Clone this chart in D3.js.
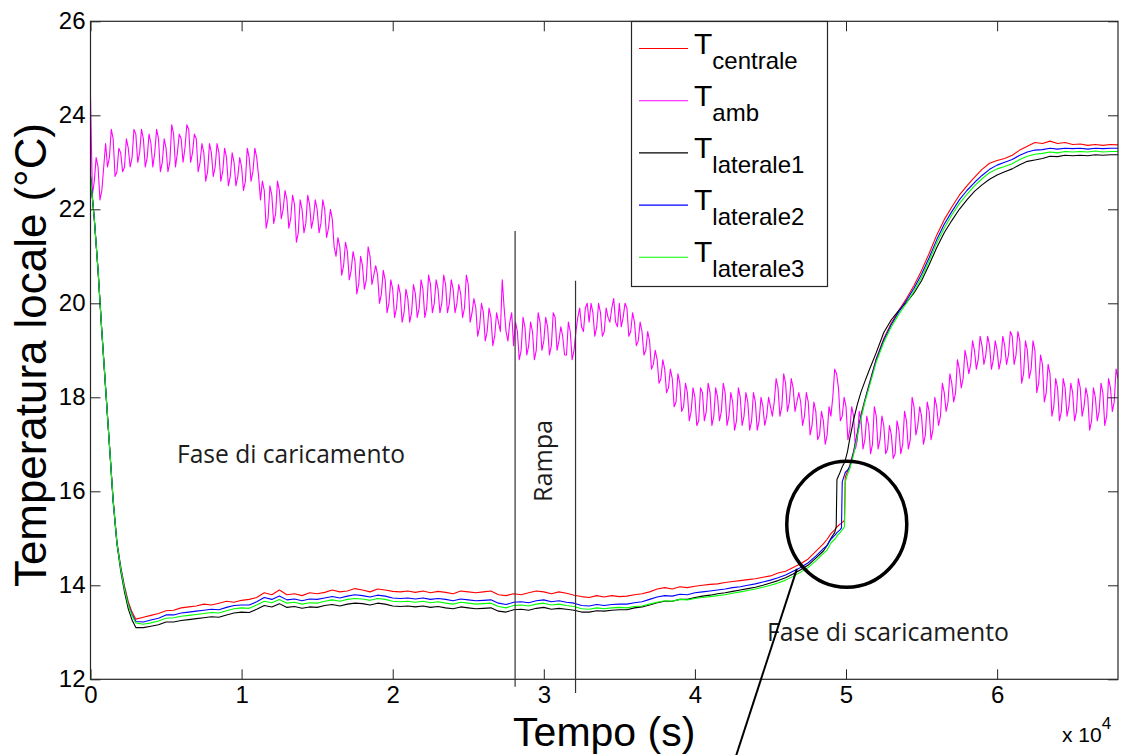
<!DOCTYPE html>
<html lang="it">
<head>
  <meta charset="UTF-8">
  <title>Temperatura locale</title>
  <script src="https://d3js.org/d3.v7.min.js"></script>
  <style>
    body {
      margin: 0;
      padding: 0;
      background: #fff;
    }
    svg {
      display: block;
    }
    .axis text {
      font-family: "Liberation Sans", Arial, sans-serif;
      font-size: 24px;
      fill: #000;
    }
    .axis line {
      stroke: #222;
    }
    .note {
      font-family: "Open Sans", "Noto Sans", sans-serif;
      font-size: 25px;
      fill: #1c1c1c;
    }
  </style>
</head>
<body>
  <div id="chart"></div>
<script>
  // time grid of the four probe series (s)
  const tCore = [].concat(
    d3.range(0, 3001, 250),
    d3.range(3500, 48501, 500),
    [48750, 49000, 49250, 49350, 49400, 49600, 49700, 49750, 49850, 49900, 49950, 50100, 50250, 50500, 50750, 51000, 51250, 51500],
    d3.range(52000, 68001, 500)
  )

  const tCentrale = [
    22.7, 21.8, 20.7, 19.4, 18.2, 17.0, 15.82, 14.93, 14.4, 13.98, 13.65, 13.43, 13.28,
    13.32, 13.36, 13.40, 13.46, 13.47, 13.52, 13.54, 13.56, 13.60, 13.58,
    13.62, 13.66, 13.64, 13.68, 13.70, 13.74, 13.84, 13.80, 13.90, 13.80,
    13.82, 13.78, 13.84, 13.82, 13.85, 13.90, 13.86, 13.88, 13.93, 13.90,
    13.86, 13.92, 13.90, 13.87, 13.86, 13.88, 13.85, 13.88, 13.84, 13.87,
    13.85, 13.82, 13.88, 13.86, 13.84, 13.86, 13.88, 13.80, 13.78, 13.82,
    13.80, 13.84, 13.88, 13.86, 13.82, 13.86, 13.83, 13.79, 13.76, 13.74,
    13.78, 13.75, 13.78, 13.76, 13.77, 13.80, 13.82, 13.86, 13.92, 13.95,
    13.92, 13.97, 13.95, 13.98, 14.00, 14.02, 14.03, 14.06, 14.08, 14.10,
    14.12, 14.14, 14.17, 14.20, 14.26, 14.30, 14.38, 14.46, 14.56, 14.72,
    14.88,
    14.98, 15.10, 15.18, 15.22, 15.24, 15.30, 15.32, 15.34, 15.36, 15.40, 16.30, 16.42, 16.55, 16.85, 17.25, 17.65, 17.95, 18.25,
    18.82, 19.25, 19.58, 19.85, 20.10, 20.38, 20.70, 21.06, 21.45, 21.78, 22.05, 22.30, 22.50, 22.68, 22.85, 22.98, 23.04,
    23.08, 23.15, 23.26, 23.34, 23.42, 23.40, 23.45, 23.40, 23.42, 23.38, 23.39, 23.36, 23.38, 23.36, 23.38, 23.37
  ]

  const tLaterale1 = [
    22.7, 21.8, 20.7, 19.4, 18.2, 17.0, 15.78, 14.88, 14.3, 13.86, 13.5, 13.26, 13.10,
    13.10, 13.13, 13.16, 13.22, 13.22, 13.25, 13.27, 13.29, 13.31, 13.33,
    13.32, 13.37, 13.41, 13.43, 13.42, 13.49, 13.57, 13.54, 13.61, 13.53,
    13.55, 13.51, 13.54, 13.53, 13.57, 13.59, 13.56, 13.60, 13.62, 13.61,
    13.58, 13.62, 13.60, 13.56, 13.55, 13.56, 13.54, 13.56, 13.53, 13.55,
    13.52, 13.50, 13.54, 13.52, 13.50, 13.51, 13.52, 13.45, 13.43, 13.48,
    13.49, 13.47, 13.51, 13.53, 13.49, 13.51, 13.49, 13.47, 13.43, 13.43,
    13.46, 13.45, 13.47, 13.48, 13.48, 13.52, 13.54, 13.58, 13.63, 13.66,
    13.66, 13.70, 13.70, 13.74, 13.77, 13.79, 13.82, 13.84, 13.87, 13.90,
    13.93, 13.96, 14.00, 14.05, 14.10, 14.16, 14.24, 14.33, 14.43, 14.58,
    14.73,
    14.85, 15.00, 15.12, 15.25, 16.25, 16.40, 16.48, 16.52, 16.58, 16.62, 16.66, 16.85, 17.12, 17.52, 17.85, 18.12, 18.34, 18.55,
    18.95, 19.38, 19.65, 19.85, 20.02, 20.22, 20.48, 20.82, 21.18, 21.50, 21.76, 22.00, 22.20, 22.38, 22.52, 22.64, 22.73,
    22.80, 22.86, 22.95, 23.02, 23.05, 23.08, 23.13, 23.12, 23.15, 23.14, 23.15, 23.14, 23.16, 23.15, 23.16, 23.16
  ]

  const tLaterale2 = [
    22.7, 21.8, 20.7, 19.4, 18.2, 17.0, 15.8, 14.9, 14.37, 13.94, 13.6, 13.38, 13.23,
    13.22, 13.26, 13.30, 13.37, 13.37, 13.41, 13.43, 13.45, 13.47, 13.49,
    13.48, 13.53, 13.57, 13.58, 13.58, 13.65, 13.74, 13.70, 13.77, 13.69,
    13.71, 13.67, 13.71, 13.70, 13.73, 13.76, 13.73, 13.77, 13.80, 13.78,
    13.75, 13.79, 13.77, 13.73, 13.72, 13.73, 13.71, 13.73, 13.70, 13.72,
    13.70, 13.67, 13.71, 13.69, 13.67, 13.68, 13.69, 13.62, 13.59, 13.64,
    13.65, 13.63, 13.67, 13.69, 13.65, 13.67, 13.64, 13.62, 13.57, 13.56,
    13.59, 13.57, 13.59, 13.60, 13.60, 13.63, 13.65, 13.70, 13.75, 13.78,
    13.77, 13.81, 13.80, 13.84, 13.86, 13.88, 13.90, 13.92, 13.95, 13.97,
    14.00, 14.03, 14.07, 14.11, 14.16, 14.22, 14.30, 14.38, 14.48, 14.62,
    14.78,
    14.85, 14.98, 15.06, 15.10, 15.12, 15.18, 15.22, 16.20, 16.30, 16.35, 16.40, 16.45, 16.52, 16.82, 17.22, 17.60, 17.93, 18.22,
    18.80, 19.22, 19.55, 19.82, 20.06, 20.32, 20.62, 20.97, 21.35, 21.68, 21.95, 22.20, 22.40, 22.57, 22.72, 22.85, 22.94,
    23.00, 23.06, 23.15, 23.22, 23.26, 23.27, 23.30, 23.28, 23.30, 23.29, 23.30, 23.28, 23.30, 23.29, 23.30, 23.30
  ]

  const tLaterale3 = [
    22.7, 21.8, 20.7, 19.4, 18.2, 17.0, 15.8, 14.9, 14.35, 13.92, 13.58, 13.35, 13.20,
    13.17, 13.20, 13.24, 13.30, 13.31, 13.34, 13.36, 13.38, 13.40, 13.42,
    13.41, 13.46, 13.50, 13.52, 13.51, 13.58, 13.66, 13.63, 13.70, 13.62,
    13.64, 13.60, 13.63, 13.62, 13.66, 13.69, 13.66, 13.70, 13.72, 13.71,
    13.68, 13.72, 13.70, 13.66, 13.65, 13.66, 13.64, 13.66, 13.63, 13.65,
    13.62, 13.60, 13.64, 13.62, 13.60, 13.61, 13.62, 13.55, 13.52, 13.57,
    13.58, 13.56, 13.60, 13.62, 13.58, 13.60, 13.57, 13.55, 13.50, 13.49,
    13.52, 13.50, 13.52, 13.53, 13.52, 13.55, 13.56, 13.60, 13.64, 13.67,
    13.66, 13.70, 13.69, 13.72, 13.74, 13.76, 13.78, 13.80, 13.83, 13.86,
    13.89, 13.92, 13.96, 14.00, 14.05, 14.11, 14.19, 14.28, 14.38, 14.52,
    14.68,
    14.75, 14.90, 14.98, 15.02, 15.05, 15.12, 15.16, 15.18, 15.22, 15.25, 16.20, 16.36, 16.48, 16.78, 17.18, 17.56, 17.90, 18.18,
    18.75, 19.17, 19.50, 19.77, 20.00, 20.26, 20.55, 20.90, 21.28, 21.60, 21.88, 22.12, 22.32, 22.50, 22.65, 22.78, 22.86,
    22.91, 22.97, 23.06, 23.13, 23.17, 23.19, 23.22, 23.20, 23.23, 23.22, 23.23, 23.22, 23.24, 23.22, 23.23, 23.23
  ]

  // ambient temperature: samples every 250 s ...
  const ambStep = 250
  const tAmb = [
    24.4, 22.6, 22.9, 22.4,  23.4, 23.1, 23.5, 22.8,  23.2, 22.9, 23.3, 23.1,  23.6, 23.2, 23.5, 23.1,
    23.4, 23.2, 23.5, 23.0,  23.3, 23.0, 23.6, 23.2,  23.5, 23.3, 23.7, 23.2,  23.5, 23.0, 23.2, 22.8,
    23.2, 22.9, 23.2, 22.8,  23.1, 22.7, 23.0, 22.7,  22.9, 22.6, 23.1, 22.8,  23.1, 22.2, 22.4, 21.8,
    22.3, 21.9, 22.4, 22.0,  22.2, 21.8, 22.1, 21.5,  22.0, 21.7, 22.1, 21.8,  22.0, 21.7, 22.0, 21.6,
    21.8, 21.0, 21.2, 20.8,  21.1, 20.7, 20.9, 20.4,  20.8, 20.5, 21.0, 20.6,  20.6, 20.2, 20.5, 20.0,
    20.3, 19.9, 20.2, 19.8,  20.1, 19.8, 20.2, 19.9,  20.3, 19.9, 20.4, 20.0,  20.3, 20.0, 20.4, 20.0,
    20.3, 20.0, 20.2, 19.9,  20.4, 19.8, 19.9, 19.5,  19.8, 19.4, 19.7, 19.3,  19.6, 20.5, 19.4, 19.6,
    19.1, 19.4, 19.0, 19.5,  19.1, 19.4, 19.0, 19.6,  19.2, 19.5, 19.1, 19.7,  19.2, 19.3, 18.9, 19.4,
    19.0, 19.7, 19.5, 19.9,  19.6, 19.8, 19.5, 19.8,  19.4, 19.7, 19.9, 19.6,  20.0, 19.7, 19.9, 19.4,
    19.6, 19.2, 19.4, 19.0,  19.2, 18.7, 18.8, 18.4,  18.6, 18.2, 18.4, 17.9,  18.3, 17.8, 18.1, 17.7,
    18.0, 17.5, 18.1, 17.7,  18.1, 17.6, 18.0, 17.7,  18.1, 17.6, 17.9, 17.5,  18.0, 17.6, 17.9, 17.5,
    17.9, 17.5, 17.8, 17.6,  17.8, 17.9, 18.2, 17.8,  18.3, 17.9, 18.2, 17.9,  17.9, 17.6, 17.9, 17.4,
    17.7, 17.2, 17.5, 17.2,  17.6, 18.6, 18.2, 17.6,  17.8, 17.3, 17.6, 17.1,  17.5, 17.1, 17.4, 17.0,
    17.6, 17.1, 17.4, 16.9,  17.2, 16.8, 17.3, 17.0,  17.5, 17.1, 17.8, 17.4,  17.6, 17.2, 17.7, 17.3,
    17.8, 17.6, 18.1, 17.9,  18.3, 18.1, 18.6, 18.4,  18.8, 18.7, 19.0, 18.8,  19.1, 18.9, 19.1, 18.8,
    19.0, 18.8, 19.1, 18.9,  19.3, 18.9, 19.2, 18.5,  19.0, 18.6, 19.0, 18.3,  18.7, 18.1, 18.5, 17.8,
    18.2, 17.7, 18.2, 17.8,  18.1, 17.7, 18.2, 17.8,  18.0, 17.5, 18.0, 17.7,  18.1, 17.6, 18.2, 17.9,
    18.4
  ]
  // ... and the readings half-way between them (t = 125 + 250 i)
  const tAmbMid = [
    22.3, 23.1, 22.2, 22.9,  22.9, 23.7, 22.7, 23.3,  22.8, 23.5, 22.9, 23.7,  23.0, 23.7, 22.9, 23.6,
    22.9, 23.7, 22.8, 23.5,  22.8, 23.8, 22.9, 23.6,  23.0, 23.8, 23.0, 23.6,  22.8, 23.4, 22.6, 23.4,
    22.7, 23.4, 22.6, 23.3,  22.5, 23.2, 22.5, 23.1,  22.4, 23.3, 22.6, 23.3,  22.7, 22.6, 21.6, 22.5,
    21.7, 22.6, 21.8, 22.4,  21.6, 22.3, 21.3, 22.2,  21.5, 22.3, 21.6, 22.2,  21.5, 22.2, 21.4, 22.0,
    21.2, 21.4, 20.6, 21.3,  20.5, 21.1, 20.2, 21.0,  20.3, 21.2, 20.4, 20.8,  20.0, 20.7, 19.8, 20.5,
    19.7, 20.4, 19.6, 20.3,  19.6, 20.4, 19.7, 20.5,  19.7, 20.6, 19.8, 20.5,  19.8, 20.6, 19.8, 20.5,
    19.8, 20.4, 19.7, 20.6,  19.6, 20.1, 19.3, 20.0,  19.2, 19.9, 19.1, 19.8,  19.4, 19.9, 19.2, 19.8,
    19.6, 18.8, 19.7, 18.9,  19.6, 18.8, 19.8, 19.0,  19.7, 18.9, 19.8, 19.0,  19.5, 18.9, 19.6, 18.8,
    19.4, 19.9, 19.4, 20.0,  20.0, 19.3, 20.0, 19.3,  19.9, 19.6, 20.1, 19.5,  19.5, 20.0, 19.3, 19.8,
    19.1, 19.6, 18.9, 19.4,  18.6, 19.0, 18.3, 18.8,  18.1, 18.6, 17.8, 18.5,  17.7, 18.3, 17.5, 18.2,
    17.4, 18.2, 17.5, 18.3,  17.4, 18.2, 17.5, 18.3,  17.4, 18.1, 17.3, 18.2,  17.4, 18.1, 17.3, 18.1,
    17.3, 18.0, 17.4, 18.0,  17.6, 18.4, 17.6, 18.5,  17.7, 18.4, 17.7, 18.1,  17.4, 18.1, 17.2, 17.9,
    17.1, 17.7, 17.0, 17.8,  18.0, 18.5, 17.5, 18.0,  17.1, 17.8, 16.9, 17.7,  16.9, 17.6, 16.8, 17.8,
    16.9, 17.6, 16.8, 17.4,  16.7, 17.5, 16.8, 17.7,  16.9, 18.0, 17.2, 17.8,  17.0, 17.9, 17.1, 18.0,
    17.4, 18.3, 17.7, 18.5,  17.9, 18.8, 18.2, 19.0,  18.5, 19.2, 18.6, 19.3,  18.7, 19.3, 18.6, 19.2,
    18.6, 19.3, 18.7, 19.4,  18.7, 19.4, 18.3, 19.2,  18.4, 19.2, 18.1, 18.9,  17.9, 18.7, 17.6, 18.4,
    17.5, 18.4, 17.6, 18.3,  17.5, 18.4, 17.6, 18.2,  17.3, 18.2, 17.5, 18.3,  17.4, 18.4, 17.7, 18.6
  ]

  const xTicks = [0, 10000, 20000, 30000, 40000, 50000, 60000]
  const yTicks = [12, 14, 16, 18, 20, 22, 24, 26]

  // annotations (data units)
  const rampa = [{t: 28100, top: 21.54, bottom: 11.84}, {t: 32100, top: 20.48, bottom: 11.71}]
  const focus = {t: 50050, v: 15.3}
  const pointer = {t1: 46750, v1: 14.35, t2: 42550, v2: 10.2}

  const width = 1121
  const height = 755

  const x = d3.scaleLinear().domain([0, 68000]).range([90.5, 1118])
  const y = d3.scaleLinear().domain([12, 26]).range([679.3, 21.3])

  const svg = d3.select('#chart')
    .append('svg')
    .attr('width', width)
    .attr('height', height)
    .attr('viewBox', `0 0 ${width} ${height}`)

  svg.append('defs').append('clipPath')
    .attr('id', 'plot')
    .append('rect')
    .attr('x', x(0)).attr('y', y(26))
    .attr('width', x(68000) - x(0)).attr('height', y(12) - y(26))

  const corePoints = v => v.map((d, i) => [tCore[i], d])
  const ambPoints = []
  tAmb.forEach((d, i) => {
    ambPoints.push([i * ambStep, d])
    if (i < tAmbMid.length) ambPoints.push([i * ambStep + ambStep / 2, tAmbMid[i]])
  })

  //  series, in plotting order
  const series = [
    {name: 'centrale', color: '#ff0000', points: corePoints(tCentrale), w: 1.1},
    {name: 'amb', color: '#ff00ff', points: ambPoints, w: 1.1},
    {name: 'laterale1', color: '#000000', points: corePoints(tLaterale1), w: 1.1},
    {name: 'laterale2', color: '#0000ff', points: corePoints(tLaterale2), w: 1.1},
    {name: 'laterale3', color: '#00ff00', points: corePoints(tLaterale3), w: 1.1}
  ]

  const line = d3.line()
    .x(d => x(d[0]))
    .y(d => y(d[1]))

  svg.append('g')
    .attr('clip-path', 'url(#plot)')
    .selectAll('path')
    .data(series)
    .join('path')
    .attr('fill', 'none')
    .attr('stroke', d => d.color)
    .attr('stroke-width', d => d.w)
    .attr('stroke-linejoin', 'round')
    .attr('d', d => line(d.points))

  //  axes, ticks pointing inwards like the original figure
  svg.append('g')
    .attr('class', 'axis')
    .attr('transform', `translate(0,${y(12)})`)
    .call(d3.axisBottom(x).tickValues(xTicks).tickFormat(d => d / 1e4).tickSizeInner(-10).tickSizeOuter(0).tickPadding(7))
    .call(g => g.select('.domain').remove())

  svg.append('g')
    .attr('class', 'axis')
    .attr('transform', `translate(0,${y(26)})`)
    .call(d3.axisTop(x).tickValues(xTicks).tickFormat('').tickSizeInner(-10).tickSizeOuter(0))
    .call(g => g.select('.domain').remove())

  svg.append('g')
    .attr('class', 'axis')
    .attr('transform', `translate(${x(0)},0)`)
    .call(d3.axisLeft(y).tickValues(yTicks).tickSizeInner(-10).tickSizeOuter(0).tickPadding(5))
    .call(g => g.select('.domain').remove())

  svg.append('g')
    .attr('class', 'axis')
    .attr('transform', `translate(${x(68000)},0)`)
    .call(d3.axisRight(y).tickValues(yTicks).tickFormat('').tickSizeInner(-10).tickSizeOuter(0))
    .call(g => g.select('.domain').remove())

  svg.append('rect')
    .attr('x', x(0)).attr('y', y(26))
    .attr('width', x(68000) - x(0)).attr('height', y(12) - y(26))
    .attr('fill', 'none')
    .attr('stroke', '#262626')
    .attr('stroke-width', 1.2)

  //  axis titles
  svg.append('text')
    .attr('x', (x(0) + x(68000)) / 2)
    .attr('y', 745.5)
    .attr('text-anchor', 'middle')
    .style('font-family', '"Liberation Sans", Arial, sans-serif')
    .style('font-size', '41px')
    .text('Tempo (s)')

  svg.append('text')
    .attr('transform', `translate(46,355) rotate(-90)`)
    .attr('text-anchor', 'middle')
    .attr('textLength', 464)
    .attr('lengthAdjust', 'spacingAndGlyphs')
    .style('font-family', '"Liberation Sans", Arial, sans-serif')
    .style('font-size', '45px')
    .text('Temperatura locale (°C)')

  const expo = svg.append('text')
    .attr('x', 1062)
    .attr('y', 742)
    .style('font-family', '"Liberation Sans", Arial, sans-serif')
    .style('font-size', '21px')
  expo.append('tspan').text('x 10')
  expo.append('tspan').attr('dy', -13).style('font-size', '17px').text('4')

  //  rampa markers
  svg.append('g')
    .selectAll('line')
    .data(rampa)
    .join('line')
    .attr('x1', d => x(d.t)).attr('x2', d => x(d.t))
    .attr('y1', d => y(d.top)).attr('y2', d => y(d.bottom))
    .attr('stroke', '#333')
    .attr('stroke-width', 1.2)

  svg.append('text')
    .attr('class', 'note')
    .attr('transform', `translate(552,461) rotate(-90)`)
    .attr('text-anchor', 'middle')
    .attr('textLength', 82)
    .attr('lengthAdjust', 'spacingAndGlyphs')
    .text('Rampa')

  svg.append('text')
    .attr('class', 'note')
    .attr('x', 177).attr('y', 463)
    .attr('textLength', 228)
    .attr('lengthAdjust', 'spacingAndGlyphs')
    .text('Fase di caricamento')

  svg.append('text')
    .attr('class', 'note')
    .attr('x', 767).attr('y', 641)
    .attr('textLength', 242)
    .attr('lengthAdjust', 'spacingAndGlyphs')
    .text('Fase di scaricamento')

  //  zoom circle and pointer
  svg.append('ellipse')
    .attr('cx', x(focus.t)).attr('cy', y(focus.v))
    .attr('rx', 60).attr('ry', 63)
    .attr('fill', 'none')
    .attr('stroke', '#000')
    .attr('stroke-width', 3.5)

  svg.append('line')
    .attr('x1', x(pointer.t1)).attr('y1', y(pointer.v1))
    .attr('x2', x(pointer.t2)).attr('y2', y(pointer.v2))
    .attr('stroke', '#000')
    .attr('stroke-width', 2)

  //  legend
  const legend = svg.append('g').attr('transform', 'translate(631,21)')
  legend.append('rect')
    .attr('x', 0.5).attr('y', 0.5)
    .attr('width', 196).attr('height', 265)
    .attr('fill', '#fff')
    .attr('stroke', '#262626')
    .attr('stroke-width', 1.2)

  const item = legend.selectAll('g.item')
    .data(series)
    .join('g')
    .attr('class', 'item')
    .attr('transform', (d, i) => `translate(0,${27.5 + i * 52.2})`)

  item.append('line')
    .attr('x1', 8).attr('x2', 57)
    .attr('stroke', d => d.color)
    .attr('stroke-width', 1.1)

  const label = item.append('text')
    .attr('x', 63)
    .attr('y', 5)
    .style('font-family', '"Liberation Sans", Arial, sans-serif')
    .style('font-size', '30px')
  label.append('tspan').text('T')
  label.append('tspan').attr('dy', 15).style('font-size', '24px').text(d => d.name)
</script>
</body>
</html>
